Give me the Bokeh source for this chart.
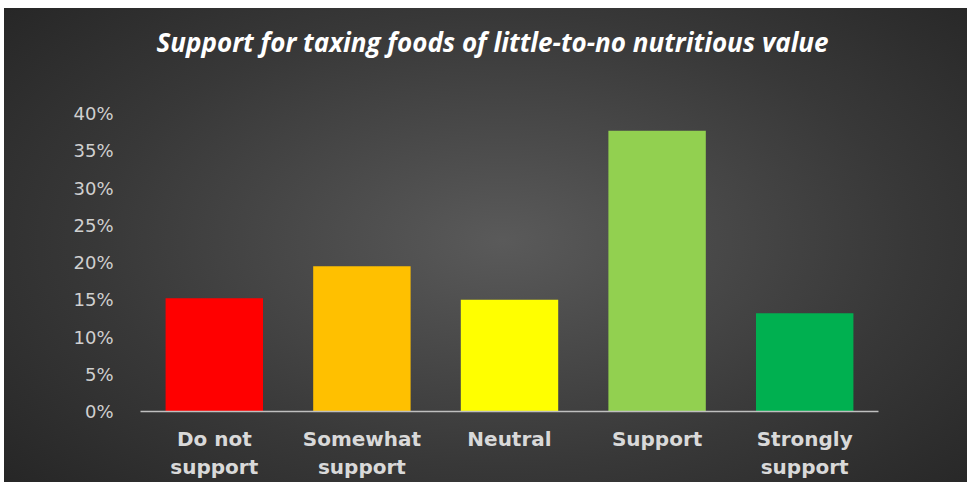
from bokeh.plotting import figure
from bokeh.models import FactorRange, Range1d, FixedTicker, NumeralTickFormatter, Title
from bokeh.embed import file_html
from bokeh.resources import INLINE

categories = ["Do not\nsupport", "Somewhat\nsupport", "Neutral", "Support", "Strongly\nsupport"]
values = [0.152, 0.195, 0.150, 0.377, 0.132]
bar_colors = ["#FF0000", "#FFC000", "#FFFF00", "#92D050", "#00B050"]
y_ticks = [0.0, 0.05, 0.10, 0.15, 0.20, 0.25, 0.30, 0.35, 0.40]
title_text = "Support for taxing foods of little-to-no nutritious value"

p = figure(width=967, height=482, output_backend="svg", toolbar_location=None,
           x_range=FactorRange(*categories, range_padding=0),
           y_range=Range1d(0, 0.40),
           min_border_left=140, min_border_right=89, min_border_top=113, min_border_bottom=71)

p.styles = {
    "background": "linear-gradient(#ffffff,#ffffff) top left / 100% 8px no-repeat, "
                  "linear-gradient(#ffffff,#ffffff) top left / 4px 100% no-repeat, "
                  "radial-gradient(ellipse 70% 78% at 52% 50%, #5a5a5a 0%, #383838 60%, #252525 100%)"
}
p.border_fill_alpha = 0
p.background_fill_alpha = 0
p.outline_line_color = None

p.vbar(x=categories, top=values, width=0.66, color=bar_colors, line_color=None)

# spacer between title and plot frame
p.add_layout(Title(text=" ", text_font_size="10px", standoff=41), "above")

p.title.text = title_text
p.title.align = "left"
p.title.offset = 16
p.title.text_font = "Open Sans"
p.title.text_font_style = "bold italic"
p.title.text_font_size = "26px"
p.title.text_color = "#ffffff"
p.title.standoff = 0

p.xgrid.grid_line_color = None
p.ygrid.grid_line_color = None

p.yaxis.ticker = FixedTicker(ticks=y_ticks)
p.yaxis.formatter = NumeralTickFormatter(format="0%")
p.yaxis.axis_line_color = None
p.yaxis.major_tick_line_color = None
p.yaxis.minor_tick_line_color = None
p.yaxis.major_label_text_color = "#d0d0d0"
p.yaxis.major_label_text_font = "DejaVu Sans"
p.yaxis.major_label_text_font_size = "18px"
p.yaxis.major_label_standoff = 21

p.xaxis.axis_line_color = "#bfbfbf"
p.xaxis.axis_line_width = 1.5
p.xaxis.major_tick_line_color = None
p.xaxis.minor_tick_line_color = None
p.xaxis.major_label_text_color = "#d9d9d9"
p.xaxis.major_label_text_font = "DejaVu Sans"
p.xaxis.major_label_text_font_style = "bold"
p.xaxis.major_label_text_font_size = "20px"
p.xaxis.major_label_standoff = 9

open("out.html", "w").write(file_html(p, INLINE))
